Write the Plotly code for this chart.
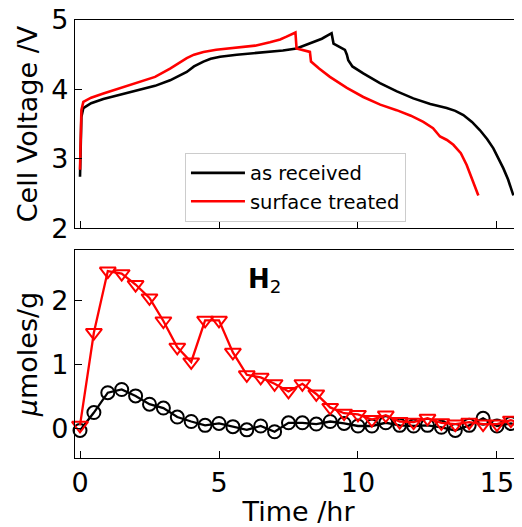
import plotly.graph_objects as go

# --- Cell voltage (top panel) ---
t_recv = [0, 0.02, 0.05, 0.12, 0.4, 0.84, 1.4, 2.04, 2.7, 3.24, 3.6, 3.84, 4.1, 4.44, 4.7,
          5.04, 5.64, 6.2, 6.83, 7.3, 7.79, 8.27, 8.7, 9.05, 9.12, 9.3, 9.53, 9.6, 9.65, 9.8,
          10.19, 10.79, 11.4, 11.99, 12.6, 13.19, 13.5, 13.79, 14.1, 14.39, 14.65, 14.87,
          15.05, 15.23, 15.4, 15.59]
v_recv = [2.74, 3.2, 3.6, 3.73, 3.8, 3.86, 3.92, 3.98, 4.05, 4.13, 4.2, 4.25, 4.33, 4.4, 4.44,
          4.47, 4.5, 4.52, 4.54, 4.56, 4.59, 4.66, 4.73, 4.81, 4.66, 4.62, 4.57, 4.5, 4.42, 4.33,
          4.23, 4.09, 3.97, 3.87, 3.79, 3.73, 3.69, 3.63, 3.53, 3.41, 3.28, 3.15,
          3.01, 2.86, 2.7, 2.47]

t_treat = [0, 0.02, 0.05, 0.12, 0.4, 0.84, 1.4, 2.04, 2.7, 3.24, 3.6, 3.84, 4.1, 4.44, 4.9,
           5.64, 6.3, 6.83, 7.2, 7.43, 7.6, 7.75, 7.79, 8.0, 8.27, 8.31, 8.6, 8.99, 9.6, 10.19,
           10.8, 11.39, 11.9, 12.35, 12.7, 12.95, 13.2, 13.43, 13.7, 13.91, 14.1, 14.33]
v_treat = [2.84, 3.3, 3.7, 3.82, 3.88, 3.94, 4.01, 4.09, 4.18, 4.3, 4.39, 4.45, 4.5, 4.54, 4.57,
           4.6, 4.63, 4.68, 4.72, 4.76, 4.79, 4.82, 4.59, 4.57, 4.54, 4.4, 4.3, 4.18, 4.02, 3.89,
           3.78, 3.70, 3.62, 3.53, 3.44, 3.32, 3.27, 3.2, 3.08, 2.91, 2.72, 2.47]

# --- H2 evolution (bottom panel) ---
t_gas = [0, 0.5, 1, 1.5, 2, 2.5, 3, 3.5, 4, 4.5, 5, 5.5, 6, 6.5, 7, 7.5, 8, 8.5, 9, 9.5,
         10, 10.5, 11, 11.5, 12, 12.5, 13, 13.5, 14, 14.5, 15, 15.5, 16]
h2_recv = [-0.03, 0.25, 0.56, 0.61, 0.51, 0.38, 0.32, 0.18, 0.11, 0.05, 0.08, 0.03, -0.02,
           0.04, -0.05, 0.09, 0.09, 0.07, 0.11, 0.08, 0.04, 0.04, 0.09, 0.05, 0.04, 0.05,
           0.02, -0.03, 0.05, 0.16, 0.04, 0.08, 0.02]
h2_treat = [0.05, 1.50, 2.46, 2.42, 2.25, 2.04, 1.68, 1.27, 1.04, 1.69, 1.69, 1.19, 0.84,
            0.80, 0.70, 0.58, 0.70, 0.54, 0.33, 0.24, 0.22, 0.14, 0.21, 0.11, 0.10, 0.16,
            0.09, 0.07, 0.10, 0.07, 0.07, 0.13, 0.07]

labels = ["as received", "surface treated"]
x_ticks = [0, 5, 10, 15]

FONT = "DejaVu Sans"
BLACK = "#000000"
RED = "#ff0000"

fig = go.Figure()

fig.add_trace(go.Scatter(x=t_recv, y=v_recv, mode="lines", name=labels[0],
                         line=dict(color=BLACK, width=2.6), xaxis="x", yaxis="y"))
fig.add_trace(go.Scatter(x=t_treat, y=v_treat, mode="lines", name=labels[1],
                         line=dict(color=RED, width=2.6), xaxis="x", yaxis="y"))

fig.add_trace(go.Scatter(x=t_gas, y=h2_recv, mode="lines+markers", showlegend=False,
                         line=dict(color=BLACK, width=2.3),
                         marker=dict(symbol="circle-open", size=13, color=BLACK,
                                     line=dict(width=2, color=BLACK)),
                         cliponaxis=False, xaxis="x2", yaxis="y2"))
fig.add_trace(go.Scatter(x=t_gas, y=h2_treat, mode="lines+markers", showlegend=False,
                         line=dict(color=RED, width=2.3),
                         marker=dict(symbol="triangle-down-open", size=14, color=RED,
                                     line=dict(width=2, color=RED)),
                         cliponaxis=False, xaxis="x2", yaxis="y2"))

axis_common = dict(showgrid=False, zeroline=False, showline=True, linecolor=BLACK,
                   linewidth=1.3, ticks="inside", ticklen=7, tickwidth=1.3, tickcolor=BLACK,
                   automargin=False, ticklabeloverflow="allow",
                   tickfont=dict(family=FONT, size=27, color=BLACK))

fig.update_layout(
    width=514, height=519,
    margin=dict(l=67, r=0, t=12, b=69),
    paper_bgcolor="white", plot_bgcolor="white",
    font=dict(family=FONT, color=BLACK),
    xaxis=dict(domain=[0, 1], range=[-0.18, 15.9], tickvals=x_ticks, showticklabels=False,
               mirror=True, anchor="y", **axis_common),
    yaxis=dict(domain=[0.525, 1], range=[2, 5], tickvals=[2, 3, 4, 5], anchor="x",
               title=dict(text="Cell Voltage /V", font=dict(family=FONT, size=27, color=BLACK),
                          standoff=5),
               **axis_common),
    xaxis2=dict(domain=[0, 1], range=[-0.18, 15.9], tickvals=x_ticks, mirror=True,
                anchor="y2",
                title=dict(text="Time /hr", font=dict(family=FONT, size=27, color=BLACK),
                           standoff=4),
                **axis_common),
    yaxis2=dict(domain=[0, 0.475], range=[-0.46, 2.79], tickvals=[0, 1, 2], anchor="x2",
                title=dict(text="<i>μ</i>moles/g", font=dict(family=FONT, size=27, color=BLACK),
                           standoff=5),
                **axis_common),
    legend=dict(x=0.246, y=0.697, xanchor="left", yanchor="top",
                bgcolor="rgba(255,255,255,0.8)", bordercolor="#cccccc", borderwidth=1,
                itemwidth=54,
                font=dict(family=FONT, size=19.5, color=BLACK)),
    annotations=[dict(x=6.65, y=2.32, xref="x2", yref="y2", showarrow=False,
                      text="<b>H</b><sub>2</sub>",
                      font=dict(family=FONT, size=26, color=BLACK))],
)

fig.write_html("out.html")
